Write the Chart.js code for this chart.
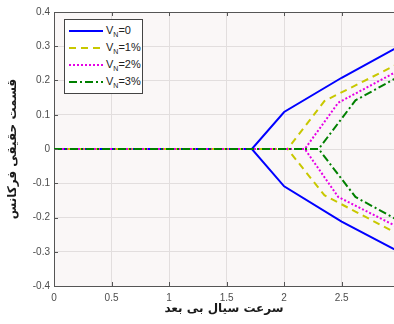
<!DOCTYPE html>
<html>
<head>
<meta charset="utf-8">
<script src="https://cdn.jsdelivr.net/npm/chart.js@4.4.1/dist/chart.umd.min.js"></script>
<style>
  body { margin: 0; background: #fff; }
  #wrap { position: relative; width: 394px; height: 324px; }
  #legend {
    position: absolute; left: 64px; top: 19px; width: 77px; height: 73px;
    background: #fff; border: 1px solid #444;
    font-family: "Liberation Sans", Arial, sans-serif; font-size: 11px; color: #222;
  }
  .row { position: absolute; left: 4px; height: 14px; display: flex; align-items: center; }
  .row svg { margin-right: 3px; }
  .row sub { font-size: 7px; vertical-align: -3px; }
</style>
</head>
<body>
<div id="wrap">
  <canvas id="chart" width="394" height="324"></canvas>
  <div id="legend"></div>
</div>
<script>
const vn0X = [0, 1.72, 2.0, 2.5, 3.0];
const vn0Up = [0, 0, 0.108, 0.208, 0.30];
const vn0Low = [0, 0, -0.109, -0.212, -0.30];

const vn1X = [0, 2.03, 2.35, 3.0];
const vn1Up = [0, 0, 0.14, 0.25];
const vn1Low = [0, 0, -0.135, -0.25];

const vn2X = [0, 2.18, 2.47, 3.0];
const vn2Up = [0, 0, 0.135, 0.23];
const vn2Low = [0, 0, -0.14, -0.23];

const vn3X = [0, 2.3, 2.62, 3.0];
const vn3Up = [0, 0, 0.142, 0.212];
const vn3Low = [0, 0, -0.14, -0.21];

const seriesNames = ["0", "1%", "2%", "3%"];
const xTicks = [0, 0.5, 1, 1.5, 2, 2.5];

const styles = [
  { color: "#0000ff", dash: [] },
  { color: "#c8c800", dash: [7, 5] },
  { color: "#e600e6", dash: [2, 2] },
  { color: "#008000", dash: [8, 3, 2, 3] }
];

function pts(xs, ys) {
  return xs.map((x, i) => ({ x: x, y: ys[i] }));
}

const series = [
  [vn0X, vn0Up, vn0Low],
  [vn1X, vn1Up, vn1Low],
  [vn2X, vn2Up, vn2Low],
  [vn3X, vn3Up, vn3Low]
];

const datasets = [];
series.forEach((s, i) => {
  [s[1], s[2]].forEach(ys => {
    datasets.push({
      data: pts(s[0], ys),
      showLine: true,
      borderColor: styles[i].color,
      borderDash: styles[i].dash,
      borderWidth: 2,
      pointRadius: 0,
      fill: false,
      order: 3 - i
    });
  });
});

// html legend with subscripts
const legend = document.getElementById("legend");
seriesNames.forEach((name, i) => {
  const row = document.createElement("div");
  row.className = "row";
  row.style.top = (4 + i * 17) + "px";
  const dash = styles[i].dash.length ? styles[i].dash.join(",") : "none";
  row.innerHTML =
    '<svg width="34" height="6"><line x1="0" y1="3" x2="34" y2="3" stroke="' + styles[i].color +
    '" stroke-width="2" stroke-dasharray="' + dash + '"/></svg>' +
    '<span>V<sub>N</sub>=' + name + '</span>';
  legend.appendChild(row);
});

const frame = {
  id: "frame",
  beforeDraw(chart) {
    const a = chart.chartArea, c = chart.ctx;
    c.save();
    c.fillStyle = "#faf7f7";
    c.fillRect(a.left, a.top, a.right - a.left, a.bottom - a.top);
    c.restore();
  },
  afterDraw(chart) {
    const a = chart.chartArea, c = chart.ctx;
    const xs = chart.scales.x, ys = chart.scales.y;
    c.save();
    c.strokeStyle = "#555";
    c.lineWidth = 1;
    c.beginPath();
    c.moveTo(a.left, a.top + 0.5);
    c.lineTo(a.right, a.top + 0.5);
    xs.ticks.forEach(t => {
      const p = Math.round(xs.getPixelForValue(t.value)) + 0.5;
      c.moveTo(p, a.top); c.lineTo(p, a.top + 4);
      c.moveTo(p, a.bottom); c.lineTo(p, a.bottom - 4);
    });
    ys.ticks.forEach(t => {
      const p = Math.round(ys.getPixelForValue(t.value)) + 0.5;
      c.moveTo(a.left, p); c.lineTo(a.left + 4, p);
    });
    c.stroke();
    c.restore();
  }
};

const tickFont = { family: "Liberation Sans", size: 10 };
const titleFont = { family: "DejaVu Sans", size: 12, weight: "bold" };

new Chart(document.getElementById("chart"), {
  type: "scatter",
  data: { datasets: datasets },
  options: {
    responsive: false,
    animation: false,
    layout: { padding: { top: 12, right: 0, left: 0, bottom: 0 } },
    plugins: { legend: { display: false }, tooltip: { enabled: false } },
    scales: {
      x: {
        type: "linear",
        min: 0,
        max: 2.955,
        afterBuildTicks: s => { s.ticks = xTicks.map(v => ({ value: v })); },
        afterFit: s => { s.height = 38; },
        ticks: {
          font: tickFont, color: "#4d4d4d", padding: 6,
          callback: v => String(Math.round(v * 10) / 10)
        },
        grid: { color: "#e2dede", drawTicks: false },
        border: { color: "#555" },
        title: {
          display: true, text: "سرعت سیال بی بعد", font: titleFont, color: "#1a1a1a",
          padding: { top: 0, bottom: 8 }
        }
      },
      y: {
        min: -0.4,
        max: 0.4,
        afterFit: s => { s.width = 54; },
        ticks: {
          stepSize: 0.1, font: tickFont, color: "#4d4d4d", padding: 4,
          callback: v => String(Math.round(v * 10) / 10)
        },
        grid: { color: "#e2dede", drawTicks: false },
        border: { color: "#555" },
        title: {
          display: true, text: "قسمت حقیقی فرکانس", font: titleFont, color: "#1a1a1a",
          padding: { top: 6, bottom: 0 }
        }
      }
    }
  },
  plugins: [frame]
});
</script>
</body>
</html>
